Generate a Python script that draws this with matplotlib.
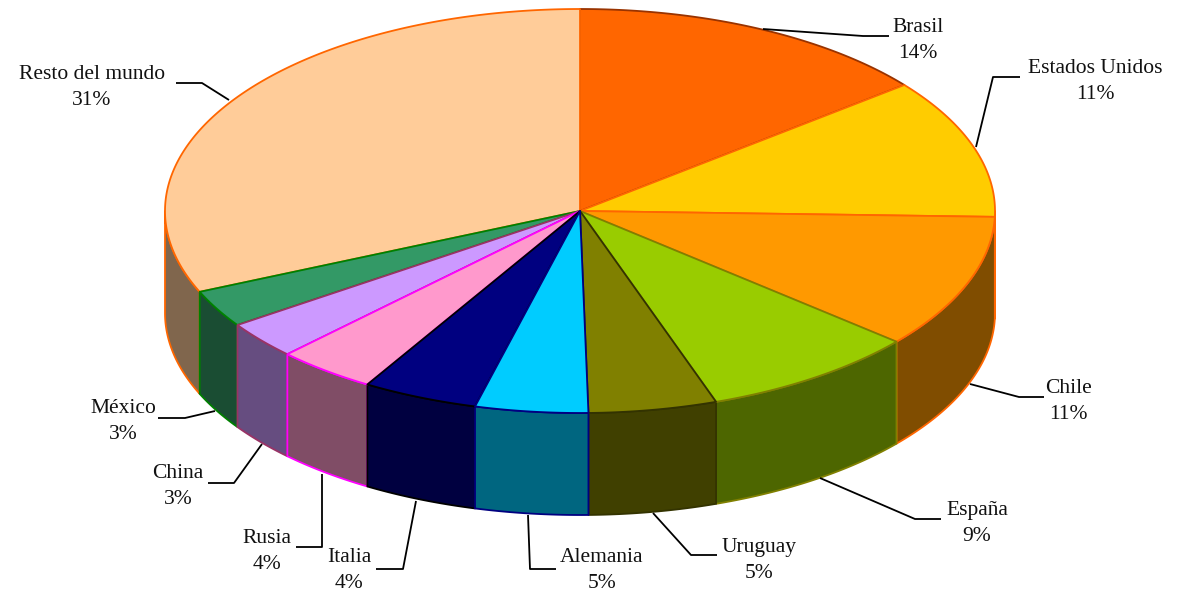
import numpy as np
import matplotlib
matplotlib.use("Agg")
import matplotlib.pyplot as plt
from matplotlib.patches import Polygon

# Data
categories = ["Brasil", "Estados Unidos", "Chile", "España", "Uruguay", "Alemania",
              "Italia", "Rusia", "China", "México", "Resto del mundo"]
printed_pct = [14, 11, 11, 9, 5, 5, 4, 4, 3, 3, 31]
# wedge sizes, one decimal finer than the printed labels
drawn_share = [14.3, 11.2, 10.75, 8.5, 5.0, 4.4, 4.5, 3.9, 3.0, 3.0, 31.6]
colors = ["#FF6600", "#FFCC00", "#FF9900", "#99CC00", "#808000", "#00CCFF",
          "#000080", "#FF99CC", "#CC99FF", "#339966", "#FFCC99"]
edges = ["#993300", "#FF6600", "#FF6600", "#808000", "#333300", "#000080",
         "#000000", "#FF00FF", "#993366", "#008000", "#FF6600"]

# Layout (pixels): label centre x and baseline y
CX, CY, RX, RY, DEPTH = 580, 211, 415, 202, 102
label_xy = [(918, 32), (1095, 73), (1068, 393), (977, 515), (759, 552), (602, 562),
            (349, 562), (267, 543), (178, 478), (123, 413), (92, 79)]
leaders = [[(763, 29), (863, 36), (889, 36)], [(976, 147), (993, 77), (1020, 77)],
           [(970, 384), (1019, 397), (1044, 397)], [(820, 478), (915, 519), (941, 519)],
           [(653, 513), (691, 555), (717, 555)], [(528, 515), (530, 569), (556, 569)],
           [(416, 501), (403, 569), (376, 569)], [(322, 474), (322, 547), (296, 547)],
           [(262, 444), (234, 483), (208, 483)], [(215, 411), (185, 418), (158, 418)],
           [(229, 100), (202, 83), (176, 83)]]

fig = plt.figure(figsize=(11.81, 5.93), dpi=100, facecolor="white")
ax = fig.add_axes([0, 0, 1, 1])
ax.set_xlim(0, 1181)
ax.set_ylim(593, 0)
ax.axis("off")


def rim(a0, a1, dy=0):
    """Rim points from a0 to a1, angles in degrees clockwise from the top."""
    n = max(2, int(abs(a1 - a0)) * 2 + 2)
    t = np.radians(np.linspace(a0, a1, n))
    return np.column_stack([CX + RX * np.sin(t), CY - RY * np.cos(t) + dy])


def darker(c):
    return tuple(v * 0.5 for v in matplotlib.colors.to_rgb(c))


shares = np.array(drawn_share, dtype=float)
bounds = np.concatenate([[0], np.cumsum(shares)]) / shares.sum() * 360
mids = (bounds[:-1] + bounds[1:]) / 2
# back-to-front painting: wedges nearest the front are drawn last
order = np.argsort(-np.cos(np.radians(mids)))

LW = 1.3
# side walls
for i in order:
    a0, a1 = max(bounds[i], 90), min(bounds[i + 1], 270)
    if a1 <= a0:
        continue
    pts = np.vstack([rim(a0, a1), rim(a1, a0, DEPTH)])
    ax.add_patch(Polygon(pts, closed=True, facecolor=darker(colors[i]),
                         edgecolor=edges[i], linewidth=LW, joinstyle="round", zorder=2))
# top faces
for i in order:
    pts = np.vstack([[CX, CY], rim(bounds[i], bounds[i + 1])])
    ax.add_patch(Polygon(pts, closed=True, facecolor=colors[i], edgecolor=edges[i],
                         linewidth=LW, joinstyle="round", zorder=3))

# leader lines and labels
for name, pct, (x, y), line in zip(categories, printed_pct, label_xy, leaders):
    xs, ys = zip(*line)
    ax.plot(xs, ys, color="black", lw=1.3, solid_capstyle="butt", zorder=4)
    ax.text(x, y, name, ha="center", va="baseline", fontsize=15.5,
            family="Liberation Serif", color="#111111", zorder=5)
    ax.text(x, y + 26, f"{pct}%", ha="center", va="baseline", fontsize=15.5,
            family="Liberation Serif", color="#111111", zorder=5)

fig.savefig("out.png", dpi=100, facecolor="white")
